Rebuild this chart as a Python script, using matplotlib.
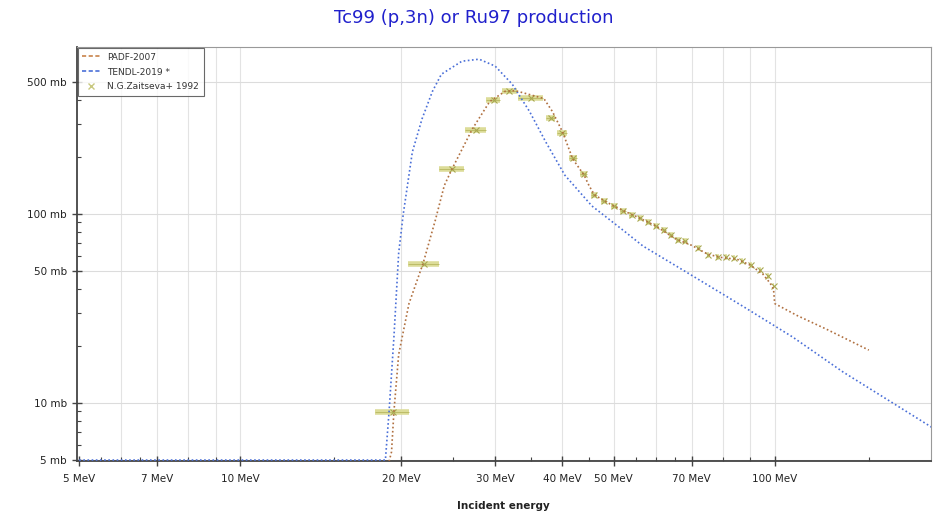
import numpy as np
import matplotlib
matplotlib.use("Agg")
import matplotlib.pyplot as plt
from matplotlib.ticker import FixedLocator, NullFormatter

# PADF-2007 evaluation (MeV, mb)
padf_e = [19.0, 19.2, 19.4, 19.8, 20.7, 22.0, 23.2, 24.1, 24.9, 27.2, 29.3, 31.3, 32.7,
          34.8, 37.0, 38.4, 40.1, 41.9, 44.0, 45.0, 46.0, 48.0, 50.0, 52.0, 55.0, 60.0,
          65.0, 70.0, 75.0, 80.0, 85.0, 90.0, 95.0, 98.0, 99.5, 100.0, 110.0, 125.0, 150.0]
padf_xs = [4.9, 5.5, 9.0, 18.0, 33.5, 54.7, 93.0, 141.0, 172.0, 281.0, 392.0, 444.0, 448.0,
           427.0, 407.0, 347.0, 271.0, 195.0, 160.0, 140.0, 126.0, 117.0, 110.0, 104.0, 97.0, 86.0,
           74.0, 68.0, 61.0, 58.5, 57.5, 53.5, 48.0, 43.0, 40.0, 33.5, 29.0, 24.5, 19.0]

# TENDL-2019 (zero below threshold)
tendl_e = [5.0, 10.0, 15.0, 18.7, 19.0, 19.4, 19.8, 20.2, 21.0, 21.9, 22.9, 23.8, 26.0,
           28.0, 30.0, 32.3, 34.8, 37.3, 40.5, 45.5, 52.0, 56.7, 70.5, 87.5, 108.0, 134.0, 197.0]
tendl_xs = [0.0, 0.0, 0.0, 0.0, 9.0, 22.3, 61.9, 100.0, 212.0, 318.0, 444.0, 547.0, 641.0,
            657.0, 604.0, 484.0, 347.0, 240.0, 160.0, 110.0, 82.0, 67.5, 46.6, 32.2, 22.3, 14.6, 7.4]

# N.G.Zaitseva+ 1992 measurements
exp_e = [19.3, 22.1, 24.9, 27.6, 29.8, 31.9, 35.0, 38.1, 40.0, 41.9, 43.9, 46.0, 48.0,
         50.0, 52.0, 54.0, 56.0, 58.0, 60.0, 62.0, 64.0, 66.0, 68.0, 72.0, 75.0, 78.2,
         81.0, 83.9, 86.8, 90.3, 93.8, 97.2, 99.5]
exp_xs = [8.95, 54.0, 172.0, 278.0, 401.0, 444.0, 410.0, 322.0, 268.0, 197.0, 162.0, 126.0, 117.0,
          110.0, 104.0, 99.0, 95.0, 90.0, 86.0, 82.0, 77.0, 73.0, 71.7, 65.8, 60.4, 58.9,
          58.9, 58.2, 56.0, 53.4, 50.2, 46.6, 41.3]
exp_de = [1.4, 1.45, 1.35, 1.3, 0.9, 1.0, 1.9, 0.8, 0.8, 0.7, 0.7, 0.6, 0.6,
          0.6, 0.6, 0.6, 0.5, 0.5, 0.5, 0.5, 0.5, 0.5, 0.5, 0.4, 0.4, 0.4,
          0.4, 0.4, 0.4, 0.4, 0.4, 0.4, 0.3]

x_major = [5, 7, 10, 20, 30, 40, 50, 70, 100]
x_labels = ["5 MeV", "7 MeV", "10 MeV", "20 MeV", "30 MeV", "40 MeV", "50 MeV", "70 MeV", "100 MeV"]
x_grid = [6, 7, 8, 9, 10, 20, 30, 40, 50, 60, 70, 80, 90, 100]
x_minor = [5.5, 6, 6.5, 8, 9, 15, 25, 35, 45, 55, 60, 65, 80, 90, 150]
y_major = [5, 10, 50, 100, 500]
y_labels = ["5 mb", "10 mb", "50 mb", "100 mb", "500 mb"]
y_minor = [6, 7, 8, 9, 20, 30, 40, 60, 70, 80, 90, 200, 300, 400]

YMIN, YMAX = 4.93, 760

fig = plt.figure(figsize=(9.48, 5.19), dpi=100)
ax = fig.add_axes([0.081, 0.112, 0.901, 0.797])
ax.set_xscale("log")
ax.set_yscale("log")
ax.set_xlim(4.95, 196)
ax.set_ylim(YMIN, YMAX)

for g in x_grid:
    ax.axvline(g, color="#e3e3e3", lw=0.8, zorder=0)
for g in y_major:
    ax.axhline(g, color="#dcdcdc", lw=0.8, zorder=0)

ax.errorbar(exp_e, exp_xs, xerr=exp_de, fmt="none", ecolor="#dcdc98", elinewidth=4,
            capsize=0, zorder=2)
ax.errorbar(exp_e, exp_xs, xerr=exp_de, fmt="none", ecolor="#b8b860", elinewidth=0.6,
            capsize=0, zorder=2)
ax.plot(exp_e, exp_xs, "x", color="#a8a850", ms=4, mew=0.8, zorder=3, linestyle="none")

tendl_plot = np.clip(np.array(tendl_xs), YMIN * 1.01, None)
ax.plot(tendl_e, tendl_plot, color="#4a6fd8", lw=1.2, linestyle=(0, (1, 1.5)), zorder=4)
ax.plot(padf_e, padf_xs, color="#b07040", lw=1.2, linestyle=(0, (1, 1.5)), zorder=4)

# legend handles
h1, = ax.plot([], [], color="#c8834a", lw=1.2, linestyle=(0, (2.5, 1.5)), label="PADF-2007")
h2, = ax.plot([], [], color="#4a6fd8", lw=1.2, linestyle=(0, (2.5, 1.5)), label="TENDL-2019 *")
h3, = ax.plot([], [], "x", color="#c8c880", ms=5, label="N.G.Zaitseva+ 1992")
leg = ax.legend(handles=[h1, h2, h3], loc="upper left", fontsize=6.5, frameon=True,
                fancybox=False, borderaxespad=0.1, handlelength=2.0, labelspacing=0.65,
                borderpad=0.5)
leg.get_frame().set_edgecolor("#444444")
leg.get_frame().set_linewidth(0.8)
for t in leg.get_texts():
    t.set_color("#333333")

ax.xaxis.set_major_locator(FixedLocator(x_major))
ax.set_xticklabels(x_labels)
ax.xaxis.set_minor_locator(FixedLocator(x_minor))
ax.xaxis.set_minor_formatter(NullFormatter())
ax.yaxis.set_major_locator(FixedLocator(y_major))
ax.set_yticklabels(y_labels)
ax.yaxis.set_minor_locator(FixedLocator(y_minor))
ax.yaxis.set_minor_formatter(NullFormatter())

ax.tick_params(which="major", direction="inout", length=7, width=1, colors="#444444",
               labelsize=7.5, labelcolor="#222222")
ax.tick_params(which="minor", direction="in", length=3, width=0.8, colors="#444444")
ax.tick_params(axis="x", which="major", pad=6)

for s in ["left", "bottom"]:
    ax.spines[s].set_color("#444444")
    ax.spines[s].set_linewidth(1.3)
for s in ["top", "right"]:
    ax.spines[s].set_color("#999999")
    ax.spines[s].set_linewidth(0.8)

ax.set_xlabel("Incident energy", fontsize=7.5, fontweight="bold", color="#222222", labelpad=12)
fig.suptitle("Tc99 (p,3n) or Ru97 production", x=0.5, y=0.982, fontsize=13, color="#2020cc")

fig.savefig("out.png", dpi=100)
